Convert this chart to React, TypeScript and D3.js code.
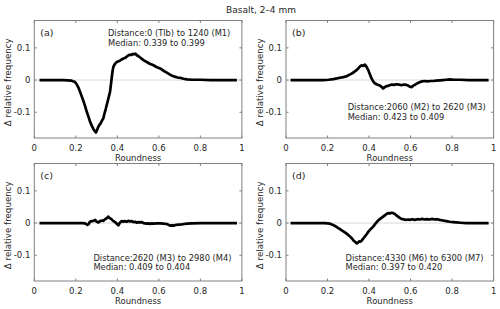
import React from "react";
import * as d3 from "d3";

// roundness (x) vs delta relative frequency (y)
const curveA: [number, number][] = [
  [0.025, 0], [0.06, 0], [0.1, 0], [0.14, 0], [0.16, -0.001], [0.18, -0.002], [0.196, -0.006],
  [0.205, -0.014], [0.213, -0.024], [0.22, -0.036], [0.228, -0.05], [0.236, -0.064], [0.245, -0.082],
  [0.252, -0.097], [0.26, -0.112], [0.268, -0.128], [0.276, -0.141], [0.284, -0.151], [0.291, -0.158],
  [0.297, -0.163], [0.302, -0.156], [0.307, -0.147], [0.312, -0.141], [0.318, -0.136], [0.323, -0.13],
  [0.328, -0.124], [0.333, -0.118], [0.338, -0.104], [0.344, -0.09], [0.349, -0.077], [0.355, -0.062],
  [0.36, -0.049], [0.365, -0.036], [0.369, -0.015], [0.373, 0.008], [0.377, 0.028], [0.381, 0.041],
  [0.386, 0.048], [0.391, 0.052], [0.397, 0.056], [0.404, 0.058], [0.412, 0.06], [0.42, 0.064],
  [0.43, 0.067], [0.438, 0.069], [0.446, 0.073], [0.454, 0.077], [0.461, 0.079], [0.468, 0.078],
  [0.474, 0.081], [0.48, 0.08], [0.487, 0.082], [0.494, 0.077], [0.502, 0.074], [0.51, 0.07],
  [0.518, 0.066], [0.526, 0.062], [0.534, 0.059], [0.542, 0.056], [0.55, 0.053], [0.558, 0.05],
  [0.566, 0.048], [0.574, 0.046], [0.582, 0.043], [0.59, 0.04], [0.598, 0.038], [0.606, 0.036],
  [0.614, 0.033], [0.622, 0.029], [0.63, 0.026], [0.638, 0.023], [0.646, 0.02], [0.654, 0.017],
  [0.662, 0.014], [0.67, 0.012], [0.68, 0.01], [0.69, 0.008], [0.703, 0.007], [0.718, 0.004],
  [0.735, 0.002], [0.76, 0.001], [0.8, 0.001], [0.85, 0], [0.9, 0], [0.95, 0], [0.976, 0],
];

const curveB: [number, number][] = [
  [0.022, 0], [0.06, 0], [0.1, 0], [0.14, 0], [0.18, 0], [0.205, 0.001], [0.228, 0.003],
  [0.245, 0.005], [0.26, 0.007], [0.276, 0.009], [0.292, 0.012], [0.304, 0.016], [0.316, 0.02],
  [0.328, 0.025], [0.34, 0.031], [0.348, 0.036], [0.356, 0.042], [0.364, 0.046], [0.372, 0.044],
  [0.38, 0.048], [0.388, 0.041], [0.396, 0.031], [0.404, 0.018], [0.412, 0.005], [0.42, -0.004],
  [0.428, -0.01], [0.436, -0.013], [0.444, -0.015], [0.452, -0.017], [0.46, -0.021], [0.468, -0.026],
  [0.476, -0.022], [0.484, -0.019], [0.492, -0.018], [0.5, -0.016], [0.51, -0.014], [0.52, -0.015],
  [0.532, -0.013], [0.544, -0.014], [0.556, -0.016], [0.568, -0.014], [0.58, -0.015], [0.59, -0.018],
  [0.598, -0.021], [0.604, -0.022], [0.612, -0.018], [0.62, -0.015], [0.628, -0.012], [0.636, -0.009],
  [0.646, -0.006], [0.656, -0.004], [0.668, -0.003], [0.682, -0.004], [0.696, -0.003], [0.708, -0.003],
  [0.724, -0.002], [0.74, -0.001], [0.756, 0], [0.772, 0.001], [0.788, 0.002], [0.81, 0.001],
  [0.84, 0.001], [0.88, 0], [0.92, 0], [0.976, 0],
];

const curveC: [number, number][] = [
  [0.025, 0], [0.08, 0], [0.14, 0], [0.2, 0], [0.23, 0], [0.245, -0.001], [0.256, -0.006],
  [0.262, -0.003], [0.268, 0.004], [0.276, 0.006], [0.285, 0.007], [0.293, 0.01], [0.301, 0.004],
  [0.309, 0.002], [0.317, 0.006], [0.325, 0.008], [0.333, 0.007], [0.341, 0.012], [0.349, 0.015],
  [0.356, 0.02], [0.362, 0.016], [0.37, 0.013], [0.378, 0.008], [0.384, 0.005], [0.389, 0.003],
  [0.397, -0.002], [0.405, -0.007], [0.412, 0.001], [0.421, 0.006], [0.429, 0.004], [0.437, 0.006],
  [0.445, 0.004], [0.453, 0.007], [0.461, 0.005], [0.47, 0.006], [0.478, 0.003], [0.486, 0.004],
  [0.494, 0.001], [0.502, 0.003], [0.51, 0.002], [0.518, 0.003], [0.526, 0], [0.534, -0.001],
  [0.542, -0.002], [0.55, -0.001], [0.558, -0.003], [0.566, -0.001], [0.574, -0.002], [0.59, -0.001],
  [0.606, -0.001], [0.622, -0.002], [0.638, -0.003], [0.648, -0.006], [0.656, -0.008], [0.664, -0.007],
  [0.672, -0.008], [0.68, -0.006], [0.694, -0.005], [0.71, -0.004], [0.722, -0.003], [0.735, -0.002],
  [0.76, -0.001], [0.8, 0], [0.86, 0], [0.92, 0], [0.976, 0],
];

const curveD: [number, number][] = [
  [0.022, 0], [0.06, 0], [0.1, 0], [0.14, 0], [0.17, 0], [0.188, 0], [0.2, -0.001], [0.212, -0.002],
  [0.224, -0.005], [0.236, -0.009], [0.248, -0.014], [0.26, -0.019], [0.272, -0.024], [0.284, -0.029],
  [0.296, -0.035], [0.308, -0.042], [0.318, -0.048], [0.326, -0.055], [0.334, -0.059], [0.34, -0.063],
  [0.346, -0.061], [0.352, -0.057], [0.358, -0.058], [0.364, -0.055], [0.37, -0.05], [0.376, -0.045],
  [0.382, -0.04], [0.39, -0.033], [0.398, -0.026], [0.406, -0.02], [0.414, -0.015], [0.42, -0.011],
  [0.428, -0.004], [0.436, 0.002], [0.444, 0.008], [0.452, 0.012], [0.46, 0.016], [0.468, 0.02],
  [0.476, 0.024], [0.484, 0.028], [0.492, 0.031], [0.5, 0.03], [0.508, 0.032], [0.516, 0.031],
  [0.524, 0.028], [0.532, 0.024], [0.54, 0.02], [0.548, 0.016], [0.556, 0.013], [0.564, 0.012],
  [0.576, 0.01], [0.588, 0.011], [0.596, 0.01], [0.608, 0.012], [0.62, 0.01], [0.632, 0.012],
  [0.644, 0.011], [0.656, 0.013], [0.668, 0.011], [0.68, 0.012], [0.692, 0.011], [0.704, 0.013],
  [0.716, 0.011], [0.728, 0.012], [0.74, 0.01], [0.756, 0.008], [0.772, 0.006], [0.788, 0.004],
  [0.804, 0.003], [0.82, 0.002], [0.84, 0.001], [0.868, 0], [0.92, 0], [0.976, 0],
];

const panelLabels = ["(a)", "(b)", "(c)", "(d)"];
const distanceTexts = [
  "Distance:0 (Tlb) to 1240 (M1)",
  "Distance:2060 (M2) to 2620 (M3)",
  "Distance:2620 (M3) to 2980 (M4)",
  "Distance:4330 (M6) to 6300 (M7)",
];
const medianTexts = [
  "Median: 0.339 to 0.399",
  "Median: 0.423 to 0.409",
  "Median: 0.409 to 0.404",
  "Median: 0.397 to 0.420",
];
// annotation anchor in data units [x, y]
const annotationAt: [number, number][] = [
  [0.355, 0.145],
  [0.297, -0.085],
  [0.285, -0.107],
  [0.287, -0.107],
];
const xTicks = [0, 0.2, 0.4, 0.6, 0.8, 1];
const xTickLabels = ["0", "0.2", "0.4", "0.6", "0.8", "1"];
const yTicks = [-0.1, 0, 0.1];
const yTickLabels = ["-0.1", "0", "0.1"];
const curves = [curveA, curveB, curveC, curveD];

const title = "Basalt, 2\u20134 mm";
const xLabel = "Roundness";
const yLabel = "\u0394 relative frequency";

const W = 500;
const H = 309;
const FONT = "'DejaVu Sans', Verdana, sans-serif";
const TXT = "#262626";
const AXIS = "#808080";

const cols = [34.3, 286];
const rows = [20.5, 163.5];
const pw = 207.6;
const ph = 117.5;

const Panel: React.FC<{ i: number }> = ({ i }) => {
  const left = cols[i % 2];
  const top = rows[Math.floor(i / 2)];
  const x = d3.scaleLinear().domain([0, 1]).range([left, left + pw]);
  const y = d3.scaleLinear().domain([-0.18, 0.185]).range([top + ph, top]);
  const line = d3
    .line<[number, number]>()
    .x((d) => x(d[0]))
    .y((d) => y(d[1]));
  const [ax, ay] = annotationAt[i];
  const tl = 2.5;
  return (
    <g>
      {/* zero reference */}
      <line x1={left} x2={left + pw} y1={y(0)} y2={y(0)} stroke="#d9d9d9" strokeWidth={1} />
      <path d={line(curves[i]) ?? ""} fill="none" stroke="#000" strokeWidth={2.7} strokeLinejoin="round" />
      <rect x={left} y={top} width={pw} height={ph} fill="none" stroke={AXIS} strokeWidth={1} />
      {xTicks.map((t, k) => (
        <g key={"x" + k}>
          <line x1={x(t)} x2={x(t)} y1={top + ph} y2={top + ph - tl} stroke={AXIS} />
          <line x1={x(t)} x2={x(t)} y1={top} y2={top + tl} stroke={AXIS} />
          <text x={x(t)} y={top + ph + 12.5} textAnchor="middle" fontSize={8.5} fill={TXT}>
            {xTickLabels[k]}
          </text>
        </g>
      ))}
      {yTicks.map((t, k) => (
        <g key={"y" + k}>
          <line x1={left} x2={left + tl} y1={y(t)} y2={y(t)} stroke={AXIS} />
          <line x1={left + pw} x2={left + pw - tl} y1={y(t)} y2={y(t)} stroke={AXIS} />
          <text x={left - 4} y={y(t) + 3} textAnchor="end" fontSize={8.5} fill={TXT}>
            {yTickLabels[k]}
          </text>
        </g>
      ))}
      <text x={left + pw / 2} y={top + ph + 22.5} textAnchor="middle" fontSize={8.5} fill={TXT}>
        {xLabel}
      </text>
      <text
        transform={`translate(${left - 23},${top + ph / 2 + 3}) rotate(-90)`}
        textAnchor="middle"
        fontSize={8.7}
        fill={TXT}
      >
        {yLabel}
      </text>
      <text x={left + 6} y={top + 15.5} fontSize={9.5} fill={TXT}>
        {panelLabels[i]}
      </text>
      <text x={x(ax)} y={y(ay) + 3} fontSize={8.3} fill={TXT}>
        {distanceTexts[i]}
      </text>
      <text x={x(ax)} y={y(ay) + 12.7} fontSize={8.3} fill={TXT}>
        {medianTexts[i]}
      </text>
    </g>
  );
};

export default function App() {
  return (
    <svg
      width={W}
      height={H}
      style={{ position: "absolute", left: 0, top: 0, background: "#fff" }}
      fontFamily={FONT}
    >
      <rect width={W} height={H} fill="#fff" />
      <text x={261} y={13} textAnchor="middle" fontSize={9} fill={TXT}>
        {title}
      </text>
      {[0, 1, 2, 3].map((i) => (
        <Panel key={i} i={i} />
      ))}
    </svg>
  );
}
